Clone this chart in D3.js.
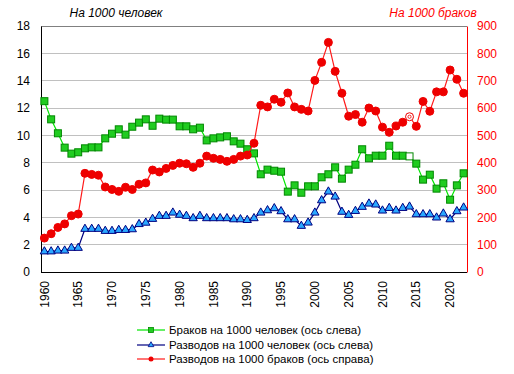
<!DOCTYPE html>
<html><head><meta charset="utf-8">
<script src="https://cdn.jsdelivr.net/npm/d3@7"></script>
<style>
body{margin:0;background:#fff;}
svg{display:block;font-family:"Liberation Sans",Arial,sans-serif;}
</style></head>
<body>
<svg id="c" width="514" height="374"></svg>
<script>
const years = d3.range(1960, 2023);
const marriages = [12.5,11.17,10.15,9.1,8.66,8.76,9.05,9.12,9.12,9.78,10.12,10.44,10.05,10.63,10.93,11.17,10.7,11.22,11.15,11.15,10.66,10.66,10.44,10.56,9.63,9.78,9.85,9.93,9.56,9.39,8.98,8.68,7.15,7.49,7.41,7.34,5.88,6.34,5.8,6.27,6.27,6.93,7.15,7.66,6.83,7.49,7.85,8.98,8.32,8.51,8.51,9.24,8.51,8.51,8.46,7.93,6.76,7.12,6.1,6.49,5.29,6.34,7.22];
const divorces = [1.5,1.5,1.56,1.56,1.76,1.76,3.15,3.15,3.15,3.0,3.0,3.07,3.07,3.12,3.5,3.6,3.88,4.1,4.1,4.34,4.18,4.1,3.93,4.1,3.93,3.93,3.93,3.93,3.85,3.85,3.8,3.93,4.34,4.51,4.66,4.44,3.85,3.85,3.37,3.61,4.34,5.24,5.88,5.51,4.4,4.17,4.46,4.76,5.0,4.93,4.49,4.68,4.49,4.68,4.78,4.22,4.22,4.22,3.98,4.27,3.85,4.44,4.71];
const divPerMarriage = [124,140,163,176,206,212,361,357,354,311,302,295,310,302,321,326,373,366,379,390,398,396,383,398,424,416,412,405,412,424,428,471,610,604,632,621,655,604,595,589,701,767,840,734,654,570,576,548,600,589,530,511,534,548,568,533,624,588,659,659,739,705,654];
const leftTicks = d3.range(0, 19, 2);
const rightTicks = d3.range(0, 901, 100);
const xLabelYears = d3.range(1960, 2021, 5);
const hollowYear = 2014;
const leftTitle = "На 1000 человек";
const rightTitle = "На 1000 браков";
const legendLabels = ["Браков на 1000 человек (ось слева)","Разводов на 1000 человек (ось слева)","Разводов на 1000 браков (ось справа)"];

const svg = d3.select("#c");
const L = 41, R = 467, T = 26, B = 272;
const x = d3.scaleBand().domain(years).range([L, R]);
const xc = d => x(d) + x.bandwidth()/2;
const yL = d3.scaleLinear().domain([0, 18]).range([B, T]);
const yR = d3.scaleLinear().domain([0, 900]).range([B, T]);

// grid
svg.append("g").selectAll("line").data(leftTicks.slice(1, -1)).join("line")
  .attr("x1", L).attr("x2", R).attr("y1", d => yL(d)).attr("y2", d => yL(d))
  .attr("stroke", "#c0c0c0").attr("stroke-width", 1).attr("shape-rendering","crispEdges");

// frame
svg.append("line").attr("x1", L).attr("x2", R).attr("y1", T).attr("y2", T).attr("stroke", "#808080").attr("shape-rendering","crispEdges");

// left axis
const gl = svg.append("g").attr("transform", `translate(${L},0)`)
  .call(d3.axisLeft(yL).tickValues(leftTicks).tickSize(0).tickPadding(11));
gl.select(".domain").attr("stroke", "#000");
gl.selectAll("text").attr("font-size", 12).attr("fill", "#000").attr("font-family", '"Liberation Sans",Arial,sans-serif');

// right axis
const gr = svg.append("g").attr("transform", `translate(${R},0)`)
  .call(d3.axisRight(yR).tickValues(rightTicks).tickSize(0).tickPadding(10));
gr.select(".domain").attr("stroke", "#ff0000");
gr.selectAll("text").attr("font-size", 12).attr("fill", "#ff0000").attr("font-family", '"Liberation Sans",Arial,sans-serif');

// bottom axis
const gb = svg.append("g").attr("transform", `translate(0,${B})`)
  .call(d3.axisBottom(x).tickValues(xLabelYears).tickSize(0).tickPadding(0));
gb.select(".domain").attr("stroke", "#000").attr("d", `M${L},0.5H${R}`);
gb.selectAll("text").attr("font-size", 12).attr("fill", "#000").attr("font-family", '"Liberation Sans",Arial,sans-serif')
  .attr("transform", "rotate(-90)").attr("text-anchor", "end").attr("dy", "0.35em")
  .attr("x", -9).attr("y", 0);

// titles
svg.append("text").attr("x", 116).attr("y", 17).attr("text-anchor", "middle")
  .attr("font-size", 12).attr("font-style", "italic").attr("fill", "#000").text(leftTitle);
svg.append("text").attr("x", 433).attr("y", 17).attr("text-anchor", "middle")
  .attr("font-size", 12).attr("font-style", "italic").attr("fill", "#ff0000").text(rightTitle);

// series
const lineL = (arr) => d3.line().x((d,i) => xc(years[i])).y(d => yL(d))(arr);
const lineR = (arr) => d3.line().x((d,i) => xc(years[i])).y(d => yR(d))(arr);

const greenLine = "#00e600", greenFill = "#20cc20", greenStroke = "#008800";
const blueLine = "#000080", blueFill = "#2aa8ff";
const redLine = "#ff1a1a", redFill = "#ee0000";

svg.append("path").attr("d", lineL(marriages)).attr("fill", "none").attr("stroke", greenLine).attr("stroke-width", 1.2);
svg.append("g").selectAll("rect").data(marriages).join("rect")
  .attr("x", (d,i) => xc(years[i]) - 3.5).attr("y", d => yL(d) - 3.5)
  .attr("width", 7).attr("height", 7)
  .attr("fill", (d,i) => years[i] === hollowYear ? "#fff" : greenFill)
  .attr("stroke", greenStroke).attr("stroke-width", 1);

svg.append("path").attr("d", lineL(divorces)).attr("fill", "none").attr("stroke", blueLine).attr("stroke-width", 1.2);
const tri = d3.symbol().type(d3.symbolTriangle).size(30);
svg.append("g").selectAll("path").data(divorces).join("path")
  .attr("transform", (d,i) => `translate(${xc(years[i])},${yL(d)})`)
  .attr("d", tri).attr("fill", blueFill).attr("stroke", blueLine).attr("stroke-width", 1);

svg.append("path").attr("d", lineR(divPerMarriage)).attr("fill", "none").attr("stroke", redLine).attr("stroke-width", 1.2);
svg.append("g").selectAll("circle").data(divPerMarriage).join("circle")
  .attr("cx", (d,i) => xc(years[i])).attr("cy", d => yR(d)).attr("r", 4)
  .attr("fill", (d,i) => years[i] === hollowYear ? "#fff" : redFill)
  .attr("stroke", redFill).attr("stroke-width", 1);
svg.append("g").selectAll("circle").data(divPerMarriage.filter((d,i) => years[i] === hollowYear)).join("circle")
  .attr("cx", xc(hollowYear)).attr("cy", d => yR(d)).attr("r", 1.6)
  .attr("fill", "none").attr("stroke", redFill).attr("stroke-width", 0.8);

// legend
const leg = svg.append("g");
const legY = [330, 345, 359];
const lx1 = 137, lx2 = 165, lm = 151;
const legColors = [greenLine, blueLine, redLine];
legY.forEach((yy, i) => {
  leg.append("line").attr("x1", lx1).attr("x2", lx2).attr("y1", yy).attr("y2", yy).attr("stroke", legColors[i]).attr("stroke-width", 1.2);
  leg.append("text").attr("x", 169).attr("y", yy).attr("dy", "0.35em").attr("font-size", 11.5).attr("fill", "#000").text(legendLabels[i]);
});
leg.append("rect").attr("x", lm - 2.5).attr("y", legY[0] - 2.5).attr("width", 5).attr("height", 5).attr("fill", greenFill).attr("stroke", greenStroke).attr("stroke-width", 0.8);
leg.append("path").attr("transform", `translate(${lm},${legY[1]})`).attr("d", d3.symbol().type(d3.symbolTriangle).size(14)).attr("fill", blueFill).attr("stroke", blueLine).attr("stroke-width", 0.8);
leg.append("circle").attr("cx", lm).attr("cy", legY[2]).attr("r", 2.5).attr("fill", redFill);
</script>
</body></html>
